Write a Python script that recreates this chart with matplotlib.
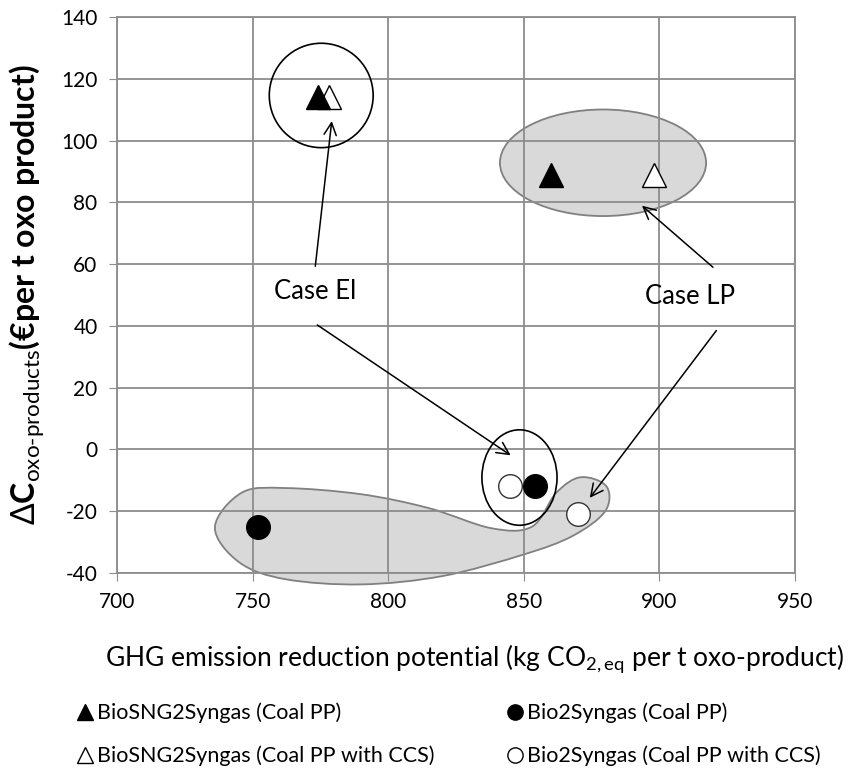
import numpy as np
import matplotlib
matplotlib.use("Agg")
import matplotlib.pyplot as plt
from matplotlib.patches import Ellipse, PathPatch
from matplotlib.path import Path
from matplotlib.lines import Line2D

plt.rcParams['font.family'] = ['Lato', 'DejaVu Sans']
plt.rcParams['mathtext.fontset'] = 'custom'
plt.rcParams['mathtext.rm'] = 'Lato'
plt.rcParams['axes.unicode_minus'] = False

# data
sng_coal_x = [774, 860]
sng_coal_y = [114, 89]
sng_ccs_x = [778, 898]
sng_ccs_y = [114, 89]
bio_coal_x = [752, 854]
bio_coal_y = [-25, -12]
bio_ccs_x = [845, 870]
bio_ccs_y = [-12, -21]

legend_labels = ['BioSNG2Syngas (Coal PP)', 'BioSNG2Syngas (Coal PP with CCS)',
                 'Bio2Syngas (Coal PP)', 'Bio2Syngas (Coal PP with CCS)']

gray_fill = '#d9d9d9'
gray_edge = '#808080'

fig = plt.figure(figsize=(8.57, 7.69), dpi=100)
ax = fig.add_axes([0.1365, 0.2549, 0.7912, 0.723])

ax.set_xlim(700, 950)
ax.set_ylim(-40, 140)
ax.set_xticks(np.arange(700, 951, 50))
ax.set_yticks(np.arange(-40, 141, 20))
ax.grid(True, color='#8c8c8c', linewidth=1.3)
for s in ax.spines.values():
    s.set_color('#8c8c8c')
    s.set_linewidth(1.3)
ax.tick_params(direction='out', length=6, color='#8c8c8c', labelsize=15, pad=8)

# gray blob around the lower points (smooth closed curve through outline points)
blob = np.array([
    [736.1, -25.2], [746, -14], [762, -12.5], [790, -14.5], [815, -19],
    [838, -25.5], [853, -25], [862, -14], [871, -9], [880.5, -12],
    [880, -20], [868, -28], [850, -34], [820, -41], [790, -43.7],
    [762, -42], [745, -36.5],
])
n = len(blob)
verts = [blob[0]]
codes = [Path.MOVETO]
for i in range(n):
    p0, p1, p2, p3 = blob[i - 1], blob[i], blob[(i + 1) % n], blob[(i + 2) % n]
    verts += [p1 + (p2 - p0) / 6, p2 - (p3 - p1) / 6, p2]
    codes += [Path.CURVE4] * 3
ax.add_patch(PathPatch(Path(verts, codes), facecolor=gray_fill, edgecolor=gray_edge,
                       linewidth=1.3, zorder=1, clip_on=False))

ax.add_patch(Ellipse((879.2, 92.8), 76, 34.5, facecolor=gray_fill, edgecolor=gray_edge,
                     linewidth=1.3, zorder=1))
ax.add_patch(Ellipse((775.3, 114.6), 38.3, 33.8, facecolor='none', edgecolor='black',
                     linewidth=1.2, zorder=3))
ax.add_patch(Ellipse((848.4, -9.1), 27.7, 30.9, facecolor='none', edgecolor='black',
                     linewidth=1.2, zorder=3))

ms = 17
ax.plot(sng_ccs_x, sng_ccs_y, '^', ms=ms, mfc='white', mec='black', mew=1, ls='none', zorder=4)
ax.plot(sng_coal_x, sng_coal_y, '^', ms=ms, mfc='black', mec='black', ls='none', zorder=5)
ax.plot(bio_coal_x, bio_coal_y, 'o', ms=ms, mfc='black', mec='black', ls='none', zorder=5)
ax.plot(bio_ccs_x, bio_ccs_y, 'o', ms=ms, mfc='white', mec='#333333', mew=1, ls='none', zorder=5)

arrow = dict(arrowstyle='->', color='black', lw=1.1, mutation_scale=22)
ax.text(773, 51.2, 'Case El', ha='center', va='center', fontsize=18.5, zorder=6)
ax.annotate('', xy=(779.3, 107.2), xytext=(773, 58.4), arrowprops=arrow, zorder=6)
ax.annotate('', xy=(846, -2.4), xytext=(773, 40.8), arrowprops=arrow, zorder=6)
ax.text(911.3, 49.6, 'Case LP', ha='center', va='center', fontsize=18.5, zorder=6)
ax.annotate('', xy=(892.8, 79.5), xytext=(920.5, 58.4), arrowprops=arrow, zorder=6)
ax.annotate('', xy=(873.7, -16.4), xytext=(921.6, 39.2), arrowprops=arrow, zorder=6)

ax.set_xlabel(r'GHG emission reduction potential (kg CO$_{\mathrm{2,eq}}$ per t oxo-product)',
              fontsize=19)
ax.xaxis.set_label_coords(0.528, -0.125)
ax.set_ylabel(r'$\Delta$C$_{\mathrm{oxo\text{-}products}}$(€per t oxo product)',
              fontsize=23, fontweight='bold', labelpad=10)

handles = [
    Line2D([], [], marker='^', ls='none', ms=11, mfc='black', mec='black'),
    Line2D([], [], marker='^', ls='none', ms=11, mfc='white', mec='black'),
    Line2D([], [], marker='o', ls='none', ms=11, mfc='black', mec='black'),
    Line2D([], [], marker='o', ls='none', ms=11, mfc='white', mec='black'),
]
fig.legend(handles, legend_labels, ncol=2, loc='upper left',
           bbox_to_anchor=(0.08, 1 - 694 / 769), borderaxespad=0,
           frameon=False, fontsize=15.5, handlelength=0.7, handletextpad=0.2,
           columnspacing=3.4, labelspacing=1.05)

fig.savefig('out.png', dpi=100)
